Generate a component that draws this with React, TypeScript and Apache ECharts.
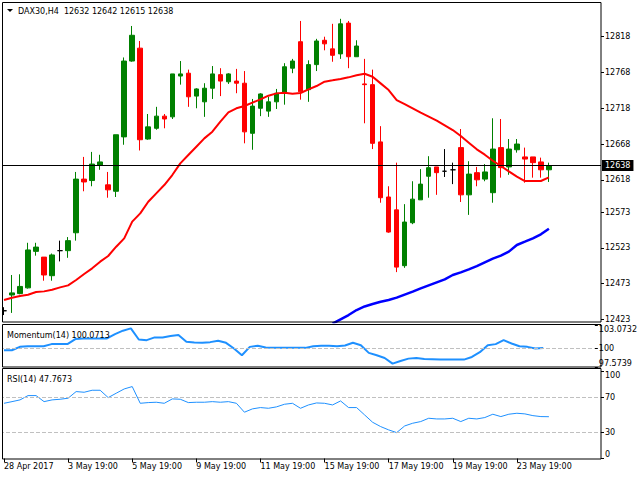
import React, { useEffect, useRef } from "react";
import * as echarts from "echarts";

// ---- Data ----
const tickLabels = [
  "28 Apr 2017", "3 May 19:00", "5 May 19:00", "9 May 19:00", "11 May 19:00",
  "15 May 19:00", "17 May 19:00", "19 May 19:00", "23 May 19:00",
];

const opens = [
  12435, 12457, 12459, 12467, 12518, 12510, 12484, 12519, 12519, 12544,
  12619, 12617, 12638, 12611, 12602, 12678, 12784, 12802, 12675, 12690,
  12707, 12706, 12763, 12767, 12735, 12727, 12746, 12765, 12755, 12756,
  12753, 12683, 12718, 12714, 12727, 12739, 12774, 12811, 12744, 12779,
  12813, 12801, 12794, 12837, 12790, 12752, 12751, 12671, 12594, 12576,
  12498, 12558, 12590, 12623, 12636, 12630, 12632, 12663, 12597, 12628,
  12619, 12600, 12663, 12636, 12660, 12650, 12650, 12643, 12632,
];
const closes = [
  12435, 12460, 12469, 12520, 12524, 12485, 12513, 12519, 12533, 12619,
  12615, 12640, 12643, 12604, 12681, 12784, 12820, 12674, 12692, 12707,
  12703, 12766, 12766, 12734, 12745, 12746, 12766, 12756, 12766, 12753,
  12685, 12721, 12738, 12727, 12739, 12776, 12784, 12741, 12779, 12812,
  12808, 12792, 12836, 12790, 12805, 12751, 12669, 12593, 12545, 12496,
  12559, 12591, 12612, 12635, 12628, 12630, 12632, 12597, 12626, 12618,
  12629, 12661, 12635, 12661, 12668, 12647, 12642, 12632, 12638,
];
const lows = [
  12429, 12432, 12458, 12466, 12512, 12477, 12477, 12504, 12509, 12533,
  12602, 12609, 12632, 12593, 12594, 12667, 12783, 12659, 12674, 12688,
  12690, 12703, 12751, 12720, 12718, 12706, 12731, 12735, 12752, 12739,
  12669, 12660, 12707, 12706, 12717, 12723, 12767, 12730, 12727, 12770,
  12799, 12783, 12787, 12774, 12790, 12697, 12661, 12586, 12544, 12489,
  12495, 12556, 12590, 12593, 12597, 12622, 12612, 12587, 12569, 12609,
  12616, 12586, 12621, 12625, 12656, 12614, 12621, 12621, 12615,
];
const highs = [
  12440, 12485, 12486, 12530, 12530, 12510, 12515, 12533, 12538, 12629,
  12650, 12657, 12653, 12629, 12681, 12789, 12833, 12812, 12710, 12720,
  12710, 12766, 12784, 12772, 12746, 12753, 12777, 12774, 12767, 12773,
  12770, 12731, 12739, 12734, 12745, 12781, 12787, 12840, 12785, 12815,
  12818, 12836, 12843, 12840, 12813, 12787, 12772, 12693, 12609, 12642,
  12584, 12616, 12633, 12651, 12636, 12661, 12642, 12689, 12644, 12636,
  12640, 12704, 12703, 12675, 12675, 12663, 12650, 12649, 12642,
];

const redMA = [
  12450.0, 12453.3, 12455.6, 12457.4, 12461.2, 12462.1, 12464.4, 12467.7, 12470.5, 12478.0,
  12486.3, 12494.3, 12503.6, 12511.5, 12524.5, 12536.2, 12559.5, 12571.1, 12587.4, 12599.1,
  12610.7, 12624.7, 12641.0, 12652.7, 12664.3, 12675.9, 12685.3, 12699.3, 12712.3, 12717.9,
  12721.1, 12725.8, 12730.5, 12735.6, 12738.8, 12739.8, 12738.4, 12739.3, 12744.4, 12749.1,
  12755.2, 12757.0, 12758.9, 12761.2, 12764.0, 12766.3, 12762.1, 12752.8, 12743.5, 12729.5,
  12723.9, 12717.9, 12711.8, 12706.2, 12700.6, 12694.1, 12687.6, 12679.2, 12669.9, 12660.6,
  12653.1, 12644.7, 12637.3, 12629.8, 12622.4, 12616.3, 12616.3, 12616.3, 12621.4,
];

const blueMA = [
  null, null, null, null, null, null, null, null, null, null,
  null, null, null, null, null, null, null, null, null, null,
  null, null, null, null, null, null, null, null, null, null,
  null, null, null, null, null, null, null, null, null, null,
  null, 12417.0, 12423.0, 12429.0, 12436.0, 12441.0, 12444.4, 12447.7, 12450.0, 12453.3,
  12457.5, 12461.7, 12466.3, 12470.5, 12474.7, 12478.9, 12485.0, 12488.7, 12492.9, 12497.5,
  12502.7, 12507.8, 12512.0, 12517.6, 12526.9, 12531.5, 12536.2, 12541.8, 12549.7,
];

const momentum = [
  99.77, 99.77, 100.21, 100.30, 100.30, 100.30, 100.57, 100.57, 100.57, 101.23,
  101.31, 101.31, 101.31, 101.31, 101.88, 102.33, 102.63, 101.18, 101.09, 101.45,
  101.45, 101.62, 101.75, 100.87, 100.79, 100.74, 100.83, 101.01, 100.74, 100.0,
  99.11, 100.21, 100.35, 100.13, 100.08, 100.08, 100.08, 100.08, 100.08, 100.30,
  100.35, 100.35, 100.30, 100.39, 100.74, 100.43, 99.42, 99.11, 98.76, 98.01,
  98.36, 98.67, 98.76, 98.63, 98.59, 98.54, 98.54, 98.54, 98.54, 98.89,
  99.51, 100.43, 100.57, 101.09, 100.65, 100.30, 100.21, 99.99, 100.0713,
];

const rsi = [
  63.1, 65.0, 67.0, 71.9, 71.9, 65.0, 67.0, 67.7, 68.9, 76.5,
  75.7, 78.0, 78.0, 69.6, 74.6, 79.5, 82.2, 63.1, 63.9, 64.3,
  63.1, 68.1, 67.7, 63.9, 64.3, 64.3, 65.0, 64.3, 65.0, 63.1,
  52.9, 56.7, 58.2, 57.4, 59.0, 62.0, 63.1, 57.4, 61.2, 63.5,
  63.1, 61.2, 65.8, 58.2, 58.2, 49.8, 41.4, 36.5, 32.7, 29.6,
  37.2, 40.3, 42.2, 46.0, 45.2, 45.2, 46.0, 42.2, 46.0, 45.2,
  46.8, 50.6, 47.9, 50.6, 51.7, 51.0, 49.0, 47.9, 47.7673,
];

const priceTicks = [12423, 12473, 12523, 12573, 12618, 12668, 12718, 12768, 12818];
const momentumTicks = [97.5739, 100, 103.0732];
const rsiTicks = [0, 30, 70, 100];
const lastPrice = 12638;
const titleText = "DAX30,H4  12632 12642 12615 12638";
const momentumTitle = "Momentum(14) 100.0713";
const rsiTitle = "RSI(14) 47.7673";
const emptySlots = 6;

const FONT = "DejaVu Sans";

export default function App() {
  const ref = useRef<HTMLDivElement>(null);

  useEffect(() => {
    if (!ref.current) return;
    const chart = echarts.init(ref.current, undefined, { renderer: "svg" });
    const n = opens.length + emptySlots;
    const categories = Array.from({ length: n }, (_, i) => String(i));
    const candles = opens.map((o, i) => [o, closes[i], lows[i], highs[i]]);

    const labelStyle = { color: "#000", fontFamily: FONT, fontSize: 8 };
    const plain = (v: number) => String(v);
    const hiddenX = (gi: number) => ({
      type: "category",
      gridIndex: gi,
      data: categories,
      boundaryGap: true,
      show: false,
    });

    const option: any = {
      animation: false,
      backgroundColor: "#fff",
      grid: [
        { left: 0, right: 39, top: 3, height: 319 },
        { left: 0, right: 39, top: 325, height: 42 },
        { left: 0, right: 39, top: 371, height: 87.5 },
      ],
      xAxis: [
        hiddenX(0),
        hiddenX(1),
        {
          type: "category",
          gridIndex: 2,
          data: categories,
          boundaryGap: true,
          axisLine: { show: false },
          axisTick: {
            show: true,
            alignWithLabel: true,
            length: 4,
            interval: (i: number) => i % 8 === 0 && i / 8 < tickLabels.length,
            lineStyle: { color: "#000" },
          },
          axisLabel: {
            ...labelStyle,
            align: "left",
            margin: 4,
            interval: (i: number) => i % 8 === 0 && i / 8 < tickLabels.length,
            formatter: (_v: string, i: number) =>
              i % 8 === 0 ? tickLabels[i / 8] ?? "" : "",
          },
          splitLine: { show: false },
        },
      ],
      yAxis: [
        {
          type: "value",
          gridIndex: 0,
          position: "right",
          min: 12419.3,
          max: 12865.1,
          axisLine: { show: false },
          axisTick: { show: true, length: 3, customValues: priceTicks, lineStyle: { color: "#000" } },
          axisLabel: { ...labelStyle, margin: 4, customValues: priceTicks, formatter: plain },
          splitLine: { show: false },
        },
        {
          type: "value",
          gridIndex: 1,
          position: "right",
          min: 97.5739,
          max: 103.0732,
          axisLine: { show: false },
          axisTick: { show: true, length: 3, customValues: momentumTicks, lineStyle: { color: "#000" } },
          axisLabel: {
            ...labelStyle,
            margin: 4,
            customValues: momentumTicks,
            verticalAlignMinLabel: "bottom",
            verticalAlignMaxLabel: "top",
            formatter: plain,
          },
          splitLine: { show: false },
        },
        {
          type: "value",
          gridIndex: 2,
          position: "right",
          min: 0,
          max: 100,
          axisLine: { show: false },
          axisTick: { show: true, length: 3, customValues: rsiTicks, lineStyle: { color: "#000" } },
          axisLabel: {
            ...labelStyle,
            margin: 4,
            customValues: rsiTicks,
            verticalAlignMinLabel: "bottom",
            verticalAlignMaxLabel: "top",
            formatter: plain,
          },
          splitLine: { show: false },
        },
      ],
      series: [
        {
          type: "candlestick",
          xAxisIndex: 0,
          yAxisIndex: 0,
          data: candles,
          barWidth: 5,
          itemStyle: {
            color: "#008000",
            color0: "#FF0000",
            borderColor: "#008000",
            borderColor0: "#FF0000",
            borderColorDoji: "#000000",
            borderWidth: 1,
          },
          markLine: {
            silent: true,
            symbol: ["none", "none"],
            lineStyle: { color: "#000", type: "solid", width: 1 },
            label: {
              show: true,
              position: "end",
              distance: 1,
              formatter: String(lastPrice),
              backgroundColor: "#000",
              color: "#fff",
              fontFamily: FONT,
              fontSize: 8,
              padding: [2, 3, 1, 3],
            },
            data: [{ yAxis: lastPrice }],
          },
          z: 3,
        },
        {
          type: "line",
          xAxisIndex: 0,
          yAxisIndex: 0,
          data: redMA,
          symbol: "none",
          lineStyle: { color: "#FF0000", width: 2 },
          z: 4,
        },
        {
          type: "line",
          xAxisIndex: 0,
          yAxisIndex: 0,
          data: blueMA,
          symbol: "none",
          connectNulls: false,
          lineStyle: { color: "#0000FF", width: 2.5 },
          z: 4,
        },
        {
          type: "line",
          xAxisIndex: 1,
          yAxisIndex: 1,
          data: momentum,
          symbol: "none",
          lineStyle: { color: "#1E90FF", width: 2 },
          markLine: {
            silent: true,
            symbol: ["none", "none"],
            label: { show: false },
            lineStyle: { color: "#C0C0C0", type: "dashed", width: 1 },
            data: [{ yAxis: 100 }],
          },
        },
        {
          type: "line",
          xAxisIndex: 2,
          yAxisIndex: 2,
          data: rsi,
          symbol: "none",
          lineStyle: { color: "#1E90FF", width: 1 },
          markLine: {
            silent: true,
            symbol: ["none", "none"],
            label: { show: false },
            lineStyle: { color: "#C0C0C0", type: "dashed", width: 1 },
            data: [{ yAxis: 30 }, { yAxis: 70 }],
          },
        },
      ],
      graphic: [
        { type: "rect", z: 90, shape: { x: 0, y: 0, width: 2.5, height: 460 }, style: { fill: "#fff" } },
        { type: "rect", z: 100, shape: { x: 2.5, y: 2.5, width: 598.5, height: 319.5 }, style: { fill: "none", stroke: "#000", lineWidth: 1 } },
        { type: "rect", z: 100, shape: { x: 2.5, y: 324.5, width: 598.5, height: 42.5 }, style: { fill: "none", stroke: "#000", lineWidth: 1 } },
        { type: "rect", z: 100, shape: { x: 2.5, y: 368.5, width: 598.5, height: 90.5 }, style: { fill: "none", stroke: "#000", lineWidth: 1 } },
        { type: "polygon", z: 100, shape: { points: [[7, 9], [13, 9], [10, 12]] }, style: { fill: "#000" } },
        { type: "text", z: 100, x: 18, y: 11, style: { text: titleText, fill: "#000", font: `8px "${FONT}"`, verticalAlign: "middle" } },
        { type: "text", z: 100, x: 7, y: 335, style: { text: momentumTitle, fill: "#000", font: `8px "${FONT}"`, verticalAlign: "middle" } },
        { type: "text", z: 100, x: 7, y: 379, style: { text: rsiTitle, fill: "#000", font: `8px "${FONT}"`, verticalAlign: "middle" } },
      ],
    };

    chart.setOption(option);
    return () => chart.dispose();
  }, []);

  return (
    <div
      ref={ref}
      style={{ position: "fixed", left: 0, top: 0, width: 640, height: 480, background: "#fff" }}
    />
  );
}
